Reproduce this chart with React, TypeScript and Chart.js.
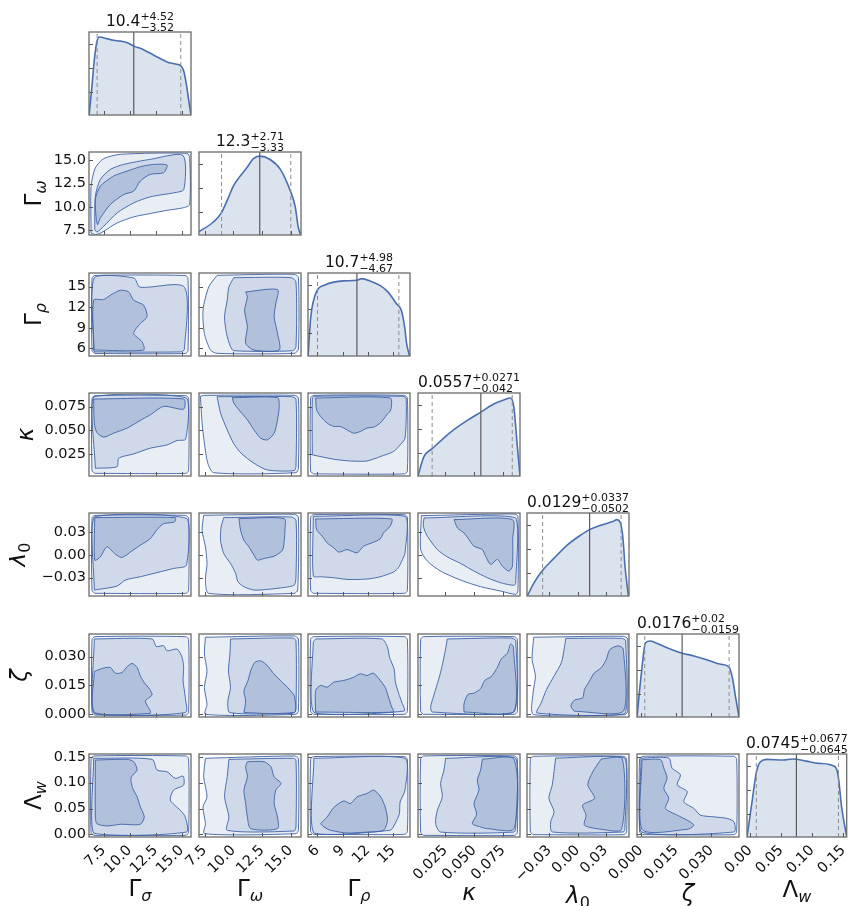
import React, { useEffect, useRef } from 'react';
import { Chart, registerables } from 'chart.js';

Chart.register(...registerables);

// ---------------- data ----------------
const paramSymbols = ['Γ', 'Γ', 'Γ', 'κ', 'λ', 'ζ', 'Λ'];
const paramSubscripts = ['σ', 'ω', 'ρ', '', '0', '', 'w'];
const symbolItalic = [false, false, false, true, true, true, false];
const subscriptItalic = [true, true, true, false, false, false, true];

const axisMin = [6.1, 7.0, 4.9, 0.0015, -0.054, -0.0016, -0.005];
const axisMax = [15.9, 15.9, 17.0, 0.0895, 0.055, 0.0418, 0.1555];
const tickValues = [
  [7.5, 10.0, 12.5, 15.0],
  [7.5, 10.0, 12.5, 15.0],
  [6, 9, 12, 15],
  [0.025, 0.05, 0.075],
  [-0.03, 0.0, 0.03],
  [0.0, 0.015, 0.03],
  [0.0, 0.05, 0.1, 0.15],
];
const tickDecimals = [1, 1, 0, 3, 2, 3, 2];
const histTicks = [0.28, 0.57, 0.86];

const medians = [10.4, 12.3, 10.7, 0.0557, 0.0129, 0.0176, 0.0745];
const errPlus = [4.52, 2.71, 4.98, 0.0271, 0.0337, 0.02, 0.0677];
const errMinus = [3.52, 3.33, 4.67, 0.042, 0.0502, 0.0159, 0.0645];

// 1D marginal densities (normalised to panel height)
const histSigmaX = [6.11, 6.35, 6.6, 6.85, 7.1, 7.8, 8.45, 9.1, 9.8, 10.4, 11.2, 12.0, 12.8, 13.6, 14.4, 14.9, 15.18, 15.47, 15.7, 15.9];
const histSigmaY = [0, 0.3, 0.65, 0.88, 0.94, 0.92, 0.9, 0.89, 0.87, 0.83, 0.795, 0.743, 0.69, 0.64, 0.614, 0.594, 0.54, 0.36, 0.16, 0];
const histOmegaX = [7.0, 8.28, 8.92, 9.5, 10.0, 11.17, 11.75, 12.28, 13.2, 14.1, 14.97, 15.4, 15.65, 15.87];
const histOmegaY = [0.04, 0.16, 0.26, 0.43, 0.59, 0.81, 0.92, 0.95, 0.91, 0.79, 0.53, 0.34, 0.1, 0];
const histRhoX = [4.91, 5.23, 6.0, 6.77, 7.95, 9.12, 10.7, 11.28, 12.26, 13.43, 14.4, 15.39, 15.97, 16.36, 16.6, 16.95];
const histRhoY = [0, 0.47, 0.79, 0.85, 0.89, 0.905, 0.912, 0.932, 0.905, 0.85, 0.77, 0.63, 0.55, 0.35, 0.15, 0];
const histKappaX = [0.0015, 0.0065, 0.0138, 0.0297, 0.044, 0.0557, 0.0673, 0.076, 0.0812, 0.0842, 0.087, 0.0895];
const histKappaY = [0, 0.23, 0.33, 0.53, 0.67, 0.77, 0.87, 0.92, 0.94, 0.83, 0.39, 0];
const histLambdaX = [-0.0537, -0.047, -0.0373, -0.0255, -0.0113, 0.0029, 0.0128, 0.024, 0.0383, 0.042, 0.0455, 0.0484, 0.0508, 0.0543];
const histLambdaY = [0, 0.15, 0.31, 0.45, 0.61, 0.73, 0.8, 0.85, 0.9, 0.92, 0.89, 0.71, 0.35, 0];
const histZetaX = [-0.0016, 0.0005, 0.002, 0.0041, 0.0062, 0.0112, 0.0169, 0.0226, 0.0284, 0.0341, 0.0376, 0.039, 0.0404, 0.0418];
const histZetaY = [0, 0.59, 0.895, 0.916, 0.895, 0.835, 0.775, 0.735, 0.687, 0.635, 0.6, 0.47, 0.23, 0];
const histLwX = [-0.005, 0.0034, 0.0098, 0.0167, 0.0272, 0.0532, 0.069, 0.09, 0.1107, 0.1369, 0.142, 0.1473, 0.155];
const histLwY = [0, 0.44, 0.77, 0.907, 0.935, 0.927, 0.939, 0.914, 0.887, 0.846, 0.725, 0.362, 0.02];

// 2D credible contours: flat [x, y, x, y, ...] in data units; boxes are [xmin, xmax, ymin, ymax]
const omeSigOuter = [6.3, 7.21, 6.3, 12.24, 6.71, 14.21, 7.51, 15.18, 9.11, 15.65, 15.52, 15.76, 15.77, 15.29, 15.77, 10.27, 15.12, 9.91, 13.6, 9.65, 11.98, 9.3, 10.39, 8.94, 8.8, 8.29, 7.34, 7.28, 6.71, 7.04];
const omeSigMid = [6.65, 7.58, 6.71, 11.17, 7.19, 12.95, 8.15, 14.03, 9.43, 14.57, 11.98, 15.11, 15.12, 15.54, 15.21, 11.88, 14.23, 11.52, 11.98, 11.09, 10.39, 10.44, 8.8, 9.37, 7.51, 7.93, 6.86, 7.32];
const omeSigInner = [6.81, 8.47, 6.71, 10.8, 7.19, 12.24, 8.47, 13.32, 9.76, 13.85, 11.03, 14.32, 12.31, 14.57, 13.6, 14.5, 13.27, 13.68, 11.98, 13.5, 11.03, 12.78, 10.39, 11.7, 9.43, 11.34, 8.15, 10.27, 7.19, 8.83, 6.93, 8.11];

const rhoSigBox = [6.39, 15.61, 5.26, 16.64];
const rhoSigMid = [6.59, 5.5, 6.59, 16.27, 10.41, 16.27, 11.0, 14.94, 15.26, 14.94, 15.26, 5.87, 14.92, 5.5];
const rhoSigInner = [6.55, 5.77, 6.55, 13.03, 7.51, 13.13, 8.15, 13.76, 9.11, 14.48, 9.91, 14.24, 10.39, 13.03, 11.35, 12.31, 11.68, 10.61, 11.03, 9.64, 10.39, 8.19, 11.2, 6.98, 11.35, 5.77];

const rhoOmeOuter = [8.58, 16.66, 7.85, 14.97, 7.35, 11.58, 7.47, 8.19, 8.0, 5.77, 8.58, 5.29, 15.31, 5.29, 15.67, 5.87, 15.67, 16.32, 15.31, 16.81];
const rhoOmeMid = [10.04, 16.32, 9.61, 14.97, 9.46, 13.03, 9.23, 10.61, 9.4, 8.19, 9.75, 6.26, 10.04, 5.67, 15.17, 5.67, 15.46, 6.26, 15.46, 15.69, 15.02, 16.32];
const rhoOmeInner = [11.07, 14.24, 13.85, 14.58, 13.7, 12.55, 13.56, 10.61, 13.85, 8.19, 14.0, 5.77, 11.8, 5.77, 11.07, 6.74, 11.22, 9.16, 10.98, 11.58, 11.22, 13.52];

const kapSigBox = [6.39, 15.67, 0.0043, 0.0867];
const kapSigMid = [6.71, 0.0097, 8.8, 0.0114, 8.95, 0.0203, 10.39, 0.0249, 11.99, 0.031, 13.6, 0.0345, 14.56, 0.0391, 15.39, 0.0406, 15.45, 0.0842, 6.55, 0.0853];
const kapSigInner = [6.55, 0.0831, 15.19, 0.0831, 15.19, 0.0724, 13.27, 0.0753, 11.99, 0.0664, 11.03, 0.0604, 9.76, 0.0523, 8.47, 0.0469, 7.51, 0.0427, 6.86, 0.0476, 6.61, 0.0576];

const kapOmeOuter = [7.12, 0.086, 7.27, 0.0576, 7.47, 0.0363, 7.77, 0.015, 8.29, 0.005, 15.46, 0.005, 15.67, 0.0097, 15.67, 0.0842, 15.31, 0.087, 7.41, 0.087];
const kapOmeMid = [8.58, 0.0856, 8.88, 0.0682, 9.46, 0.0504, 10.04, 0.0356, 10.68, 0.0256, 11.8, 0.015, 12.97, 0.0079, 15.31, 0.0072, 15.46, 0.0121, 15.46, 0.0831, 15.02, 0.0856];
const kapOmeInner = [9.9, 0.0845, 13.85, 0.0845, 14.0, 0.0753, 13.85, 0.0611, 13.56, 0.0469, 12.97, 0.0398, 12.38, 0.0416, 11.8, 0.0504, 11.22, 0.0611, 10.48, 0.0717, 10.04, 0.0789];

const kapRhoBox = [5.21, 16.69, 0.0037, 0.087];
const kapRhoMid = [5.41, 0.0239, 7.96, 0.0193, 9.93, 0.0174, 11.89, 0.0174, 13.47, 0.0221, 15.04, 0.0274, 15.83, 0.0345, 16.41, 0.0416, 16.53, 0.0842, 16.02, 0.086, 5.6, 0.086, 5.41, 0.0824];
const kapRhoInner = [5.81, 0.0842, 14.64, 0.0842, 14.73, 0.0717, 14.25, 0.0664, 13.47, 0.0576, 12.68, 0.0533, 11.89, 0.0523, 11.11, 0.0487, 10.32, 0.0469, 9.53, 0.0504, 8.75, 0.054, 7.96, 0.054, 7.17, 0.0576, 6.39, 0.0647, 5.92, 0.0717];

const lamSigBox = [6.39, 15.67, -0.0505, 0.0519];
const lamSigMid = [6.61, -0.0462, 8.8, -0.0409, 9.59, -0.0331, 11.03, -0.0287, 12.95, -0.0222, 14.23, -0.0178, 15.45, -0.0135, 15.52, 0.0476, 6.61, 0.0498];
const lamSigInner = [6.65, 0.0489, 14.39, 0.0489, 14.3, 0.0432, 13.27, 0.041, 12.64, 0.0332, 11.99, 0.0214, 11.03, 0.0127, 10.24, 0.0053, 9.28, -0.0034, 8.63, 0.0009, 7.82, 0.0105, 7.19, -0.0026, 6.65, -0.0069];

const lamOmeOuter = [7.41, 0.052, 7.27, 0.0323, 7.56, 0.0105, 7.7, -0.0113, 7.56, -0.0331, 7.85, -0.0505, 15.31, -0.0505, 15.61, -0.0462, 15.67, 0.0498, 15.31, 0.0533];
const lamOmeMid = [9.16, 0.0489, 8.93, 0.0367, 8.88, 0.0192, 9.16, 0.0018, 9.75, -0.0113, 10.2, -0.0244, 10.4, -0.0353, 10.92, -0.0418, 11.8, -0.0462, 12.97, -0.0453, 14.44, -0.0427, 15.31, -0.0396, 15.46, -0.0287, 15.46, 0.0454, 15.02, 0.0498];
const lamOmeInner = [10.48, 0.0476, 14.44, 0.0476, 14.49, 0.0323, 14.44, 0.0192, 14.29, 0.0062, 13.56, -0.0017, 12.68, -0.0047, 12.09, -0.0069, 11.8, -0.0004, 11.36, 0.0105, 10.92, 0.0192, 10.63, 0.0323];

const lamRhoBox = [5.21, 16.69, -0.0505, 0.0528];
const lamRhoMid = [5.53, 0.0506, 16.41, 0.0506, 16.41, 0.0027, 16.02, -0.0082, 15.62, -0.0169, 15.04, -0.0226, 13.47, -0.0287, 12.28, -0.0313, 11.11, -0.0322, 9.53, -0.0322, 7.96, -0.03, 6.39, -0.0287, 5.53, -0.0278];
const lamRhoInner = [5.81, 0.0472, 14.83, 0.0472, 14.64, 0.0376, 13.85, 0.0288, 13.47, 0.021, 12.49, 0.0158, 11.49, 0.0114, 10.72, 0.0027, 9.53, 0.007, 8.55, 0.0036, 7.96, 0.0092, 7.17, 0.0158, 6.59, 0.0245, 5.92, 0.0332];

const lamKapOuter = [0.0044, 0.0515, 0.0038, 0.007, 0.0096, -0.0082, 0.021, -0.0213, 0.0383, -0.0331, 0.0555, -0.0418, 0.0728, -0.0475, 0.0858, -0.0518, 0.0877, -0.0475, 0.0877, 0.0506, 0.0843, 0.0537];
const lamKapMid = [0.0067, 0.0485, 0.0061, 0.0376, 0.0096, 0.0245, 0.0182, 0.007, 0.0268, -0.0026, 0.0383, -0.0113, 0.0498, -0.0213, 0.0613, -0.03, 0.0728, -0.0366, 0.0843, -0.04, 0.0858, -0.0366, 0.0858, 0.0485];
const lamKapInner = [0.0326, 0.0463, 0.0829, 0.0463, 0.0832, 0.0201, 0.0829, -0.0148, 0.08, -0.0213, 0.0743, -0.0148, 0.07, -0.006, 0.0642, -0.0126, 0.0598, -0.0017, 0.057, 0.007, 0.0498, 0.0114, 0.0455, 0.0201, 0.0412, 0.0288, 0.0355, 0.0354];

const zetSigBox = [6.39, 15.67, -0.0006, 0.0404];
const zetSigMid = [6.61, 0.0392, 12.16, 0.0392, 12.57, 0.0352, 13.27, 0.0357, 13.6, 0.033, 14.56, 0.0339, 15.04, 0.0296, 15.19, 0.0243, 15.14, 0.0173, 15.35, 0.0086, 15.35, 0.0007, 6.61, 0.0007];
const zetSigInner = [6.61, 0.0222, 7.51, 0.024, 8.15, 0.0243, 8.63, 0.0213, 9.28, 0.0217, 9.76, 0.0247, 10.24, 0.0264, 10.72, 0.0243, 11.03, 0.0199, 11.41, 0.0164, 11.93, 0.0129, 12.16, 0.0099, 11.51, 0.0068, 11.99, 0.0016, 11.99, 0.0003, 6.61, 0.0003];

const zetOmeOuter = [7.56, 0.0401, 7.47, 0.0313, 7.7, 0.0225, 7.47, 0.0138, 7.7, 0.005, 7.56, -0.0002, 15.46, -0.0002, 15.67, 0.0016, 15.67, 0.0392, 15.31, 0.0408];
const zetOmeMid = [9.75, 0.0392, 9.7, 0.0313, 9.57, 0.0225, 9.75, 0.0138, 9.52, 0.0068, 9.7, 0.0007, 15.31, 0.0007, 15.46, 0.0033, 15.46, 0.0383, 15.17, 0.0397];
const zetOmeInner = [10.92, 0.0007, 11.07, 0.0068, 10.92, 0.0121, 11.27, 0.0173, 11.51, 0.0225, 11.86, 0.0269, 12.38, 0.0278, 12.97, 0.0252, 13.56, 0.0208, 14.29, 0.0164, 14.88, 0.0129, 15.31, 0.0094, 15.31, 0.0007];

const zetRhoBox = [5.21, 16.69, -0.0002, 0.0404];
const zetRhoMid = [5.81, 0.0392, 13.66, 0.0392, 14.33, 0.0349, 14.57, 0.0296, 15.11, 0.0236, 15.27, 0.0166, 15.67, 0.0106, 16.02, 0.0062, 16.3, 0.0015, 5.6, 0.0008, 5.53, 0.0375];
const zetRhoInner = [5.81, 0.001, 5.81, 0.0123, 6.39, 0.0149, 7.17, 0.014, 7.96, 0.0166, 9.15, 0.0175, 10.32, 0.0192, 11.11, 0.021, 11.89, 0.0201, 12.68, 0.0213, 13.47, 0.0175, 14.05, 0.014, 14.45, 0.0088, 14.83, 0.0036, 15.04, 0.001];

const zetKapBox = [0.0038, 0.0872, -0.0002, 0.0404];
const zetKapMid = [0.0268, 0.0392, 0.0253, 0.034, 0.0233, 0.0279, 0.021, 0.0218, 0.0182, 0.0158, 0.0147, 0.0088, 0.0124, 0.0036, 0.0139, 0.001, 0.0843, 0.001, 0.0858, 0.0383, 0.0814, 0.0397];
const zetKapInner = [0.0412, 0.001, 0.0412, 0.0053, 0.0446, 0.0102, 0.0498, 0.0109, 0.0555, 0.0132, 0.0591, 0.0175, 0.0648, 0.0196, 0.07, 0.0244, 0.0734, 0.0288, 0.0786, 0.0317, 0.0814, 0.0366, 0.0838, 0.0349, 0.0838, 0.001];

const zetLamOuter = [-0.0468, 0.0401, -0.0486, 0.0286, -0.045, 0.0198, -0.0475, 0.011, -0.0468, -0.0004, 0.0506, -0.0004, 0.0536, 0.0014, 0.0536, 0.0392, 0.0489, 0.0406];
const zetLamMid = [-0.0125, 0.0395, -0.0143, 0.0339, -0.0172, 0.0269, -0.0251, 0.0198, -0.0331, 0.0128, -0.0388, 0.0058, -0.0432, 0.0005, 0.0506, 0.0001, 0.0514, 0.0383, 0.047, 0.0395];
const zetLamInner = [-0.0034, 0.0014, -0.0071, 0.004, -0.0034, 0.0072, 0.0055, 0.0084, 0.0074, 0.0128, 0.0128, 0.0172, 0.0175, 0.0212, 0.0254, 0.0242, 0.0308, 0.0286, 0.0344, 0.0336, 0.0434, 0.0356, 0.0489, 0.0339, 0.0489, 0.0014];

const lwSigBox = [6.3, 15.67, -0.0018, 0.1517];
const lwSigMid = [6.55, 0.1472, 12.16, 0.1451, 12.64, 0.1244, 13.6, 0.1212, 14.39, 0.1083, 15.14, 0.1128, 15.19, 0.0953, 14.23, 0.0857, 13.91, 0.0663, 14.87, 0.0468, 15.35, 0.0338, 15.45, 0.0046, 6.55, 0.0027];
const lwSigInner = [6.71, 0.1438, 9.76, 0.1451, 10.39, 0.1406, 10.72, 0.1244, 10.14, 0.1102, 10.27, 0.0908, 10.72, 0.0727, 11.03, 0.0533, 11.41, 0.0338, 11.03, 0.0196, 9.11, 0.0196, 7.82, 0.0163, 6.86, 0.0208, 6.71, 0.0338];

const lwOmeOuter = [7.56, 0.1472, 7.41, 0.1115, 7.7, 0.0727, 7.35, 0.0533, 7.56, 0.0208, 7.47, 0.0014, 15.46, 0.0014, 15.67, 0.008, 15.67, 0.1472, 15.31, 0.1517];
const lwOmeMid = [9.61, 0.1451, 9.46, 0.1115, 9.23, 0.0727, 9.61, 0.0338, 9.46, 0.008, 15.31, 0.0067, 15.46, 0.0144, 15.46, 0.1438, 15.17, 0.1472];
const lwOmeInner = [11.22, 0.1406, 12.68, 0.1406, 13.27, 0.1309, 13.56, 0.1115, 14.15, 0.0985, 13.7, 0.0857, 13.56, 0.0597, 13.85, 0.0338, 13.85, 0.0112, 11.51, 0.0112, 11.22, 0.0338, 11.07, 0.0597, 10.92, 0.0857, 11.22, 0.1115, 11.07, 0.1309];

const lwRhoBox = [5.21, 16.69, 0.0001, 0.1504];
const lwRhoMid = [5.6, 0.1472, 16.41, 0.1472, 16.41, 0.0857, 15.83, 0.0629, 15.74, 0.0403, 15.23, 0.0208, 14.64, 0.008, 5.6, 0.0027];
const lwRhoInner = [6.39, 0.0208, 7.17, 0.0338, 7.96, 0.052, 9.15, 0.0648, 9.93, 0.0597, 10.72, 0.0727, 11.89, 0.0791, 12.68, 0.0857, 13.47, 0.074, 14.05, 0.0533, 14.33, 0.0274, 13.85, 0.008, 11.89, 0.0046, 9.53, 0.0027, 7.57, 0.008, 6.79, 0.0144];

const lwKapBox = [0.0038, 0.0872, -0.0018, 0.1517];
const lwKapMid = [0.0253, 0.1472, 0.0239, 0.1244, 0.021, 0.0985, 0.0225, 0.0727, 0.0182, 0.0468, 0.0167, 0.0208, 0.021, 0.0046, 0.0843, 0.0046, 0.0858, 0.0144, 0.0858, 0.1472];
const lwKapInner = [0.057, 0.1455, 0.0555, 0.1244, 0.0527, 0.1049, 0.0541, 0.0857, 0.0498, 0.0597, 0.0521, 0.039, 0.0484, 0.0208, 0.0555, 0.0144, 0.0613, 0.0112, 0.0843, 0.0112, 0.0843, 0.1451];

const lwLamBox = [-0.0504, 0.0525, -0.0005, 0.151];
const lwLamMid = [-0.0234, 0.1476, -0.0251, 0.1216, -0.027, 0.0958, -0.0306, 0.0698, -0.0251, 0.0438, -0.0287, 0.0242, -0.027, 0.0048, 0.0489, 0.0048, 0.0506, 0.0112, 0.0506, 0.1476];
const lwLamInner = [0.0254, 0.146, 0.0164, 0.1216, 0.011, 0.0958, 0.0182, 0.0698, 0.0055, 0.0568, 0.0091, 0.0372, 0.0074, 0.0178, 0.0254, 0.0099, 0.047, 0.0099, 0.0478, 0.146];

const lwZetBox = [-0.0005, 0.0408, -0.0005, 0.151];
const lwZetMid = [0.0001, 0.1476, 0.0119, 0.1476, 0.0133, 0.1282, 0.0169, 0.1152, 0.0155, 0.0958, 0.0198, 0.0828, 0.0183, 0.0632, 0.0226, 0.0502, 0.0254, 0.0372, 0.0311, 0.034, 0.0368, 0.0308, 0.0397, 0.0242, 0.0397, 0.0048, 0.0001, 0.0048];
const lwZetInner = [0.0005, 0.1444, 0.0084, 0.1444, 0.0098, 0.1282, 0.0112, 0.1088, 0.0098, 0.0892, 0.0119, 0.0698, 0.0105, 0.0502, 0.0155, 0.0372, 0.0198, 0.0274, 0.0226, 0.0178, 0.0198, 0.0099, 0.0005, 0.0099];

// ---------------- helpers / layout ----------------
const N = 7;
const COL0 = 89, COLSTEP = 109.6, ROW0 = 32, ROWSTEP = 120.3, PW = 102, PH = 83;
const ML = 80, MR = 12, MT = 32, MB = 74;
const CW = ML + PW + MR, CH = MT + PH + MB;
const FAMILY = '"DejaVu Sans"';
const LABEL_SIZE = 23, SUB_SIZE = 16, SUB_DROP = 5;
const xLabelDrop = [59, 59, 59, 63, 66, 64, 60];
const yLabelOffset = [48, 48, 48, 56, 64, 62, 48];

const LINE = 'rgba(62,98,165,0.9)';
const FILL_OUTER = 'rgba(76,114,176,0.12)';
const FILL_MID = 'rgba(76,114,176,0.16)';
const FILL_INNER = 'rgba(76,114,176,0.23)';

function boxOutline(b: number[]): number[] {
  const [x0, x1, y0, y1] = b;
  const cx = (x1 - x0) * 0.03, cy = (y1 - y0) * 0.035;
  return [x0 + cx, y0, x1 - cx, y0, x1, y0 + cy, x1, y1 - cy, x1 - cx, y1, x0 + cx, y1, x0, y1 - cy, x0, y0 + cy];
}

const contourTable: Record<string, number[][]> = {
  '1,0': [omeSigOuter, omeSigMid, omeSigInner],
  '2,0': [boxOutline(rhoSigBox), rhoSigMid, rhoSigInner],
  '2,1': [rhoOmeOuter, rhoOmeMid, rhoOmeInner],
  '3,0': [boxOutline(kapSigBox), kapSigMid, kapSigInner],
  '3,1': [kapOmeOuter, kapOmeMid, kapOmeInner],
  '3,2': [boxOutline(kapRhoBox), kapRhoMid, kapRhoInner],
  '4,0': [boxOutline(lamSigBox), lamSigMid, lamSigInner],
  '4,1': [lamOmeOuter, lamOmeMid, lamOmeInner],
  '4,2': [boxOutline(lamRhoBox), lamRhoMid, lamRhoInner],
  '4,3': [lamKapOuter, lamKapMid, lamKapInner],
  '5,0': [boxOutline(zetSigBox), zetSigMid, zetSigInner],
  '5,1': [zetOmeOuter, zetOmeMid, zetOmeInner],
  '5,2': [boxOutline(zetRhoBox), zetRhoMid, zetRhoInner],
  '5,3': [boxOutline(zetKapBox), zetKapMid, zetKapInner],
  '5,4': [zetLamOuter, zetLamMid, zetLamInner],
  '6,0': [boxOutline(lwSigBox), lwSigMid, lwSigInner],
  '6,1': [lwOmeOuter, lwOmeMid, lwOmeInner],
  '6,2': [boxOutline(lwRhoBox), lwRhoMid, lwRhoInner],
  '6,3': [boxOutline(lwKapBox), lwKapMid, lwKapInner],
  '6,4': [boxOutline(lwLamBox), lwLamMid, lwLamInner],
  '6,5': [boxOutline(lwZetBox), lwZetMid, lwZetInner],
};

const histTable = [
  [histSigmaX, histSigmaY],
  [histOmegaX, histOmegaY],
  [histRhoX, histRhoY],
  [histKappaX, histKappaY],
  [histLambdaX, histLambdaY],
  [histZetaX, histZetaY],
  [histLwX, histLwY],
];

function closedPoints(flat: number[]) {
  const pts: { x: number; y: number }[] = [];
  for (let i = 0; i < flat.length; i += 2) pts.push({ x: flat[i], y: flat[i + 1] });
  pts.push({ x: flat[0], y: flat[1] });
  return pts;
}

function fmtTick(v: number, d: number) {
  return v.toFixed(d).replace('-', '\u2212');
}

function setFont(ctx: CanvasRenderingContext2D, size: number, italic: boolean) {
  ctx.font = `${italic ? 'italic ' : ''}${size}px ${FAMILY}`;
}

function drawSymbol(ctx: CanvasRenderingContext2D, idx: number, cx: number, y: number) {
  setFont(ctx, LABEL_SIZE, symbolItalic[idx]);
  const w1 = ctx.measureText(paramSymbols[idx]).width;
  let w2 = 0;
  if (paramSubscripts[idx]) {
    setFont(ctx, SUB_SIZE, subscriptItalic[idx]);
    w2 = ctx.measureText(paramSubscripts[idx]).width;
  }
  const x0 = cx - (w1 + w2) / 2;
  setFont(ctx, LABEL_SIZE, symbolItalic[idx]);
  ctx.fillText(paramSymbols[idx], x0, y);
  if (w2) {
    setFont(ctx, SUB_SIZE, subscriptItalic[idx]);
    ctx.fillText(paramSubscripts[idx], x0 + w1, y + SUB_DROP);
  }
}

const decorPlugin = {
  id: 'decor',
  afterDraw(chart: any, _args: any, opts: any) {
    const ctx: CanvasRenderingContext2D = chart.ctx;
    const a = chart.chartArea;
    const xs = chart.scales.x, ys = chart.scales.y;
    ctx.save();
    // inward tick marks
    ctx.strokeStyle = '#555';
    ctx.lineWidth = 1;
    ctx.beginPath();
    xs.ticks.forEach((_t: any, i: number) => {
      const px = Math.round(xs.getPixelForTick(i)) + 0.5;
      ctx.moveTo(px, a.bottom);
      ctx.lineTo(px, a.bottom - 4);
    });
    ys.ticks.forEach((_t: any, i: number) => {
      const py = Math.round(ys.getPixelForTick(i)) + 0.5;
      ctx.moveTo(a.left, py);
      ctx.lineTo(a.left + 4, py);
    });
    ctx.stroke();
    // frame
    ctx.strokeStyle = '#6a6a6a';
    ctx.lineWidth = 1.3;
    ctx.strokeRect(a.left, a.top, a.right - a.left, a.bottom - a.top);
    ctx.fillStyle = '#111';
    ctx.textAlign = 'left';
    ctx.textBaseline = 'alphabetic';
    // title on the diagonal
    if (opts.titleIndex >= 0) {
      const i = opts.titleIndex;
      const main = String(medians[i]);
      const sup = '+' + String(errPlus[i]);
      const sub = '\u2212' + String(errMinus[i]);
      setFont(ctx, 15.5, false);
      const wm = ctx.measureText(main).width;
      setFont(ctx, 11, false);
      const ws = Math.max(ctx.measureText(sup).width, ctx.measureText(sub).width);
      const cx = (a.left + a.right) / 2;
      const x0 = cx - (wm + ws) / 2;
      setFont(ctx, 15.5, false);
      ctx.fillText(main, x0, a.top - 6);
      setFont(ctx, 11, false);
      ctx.fillText(sup, x0 + wm, a.top - 12.5);
      ctx.fillText(sub, x0 + wm, a.top - 1.5);
    }
    if (opts.xLabelIndex >= 0) {
      const i = opts.xLabelIndex;
      drawSymbol(ctx, i, (a.left + a.right) / 2, a.bottom + xLabelDrop[i]);
    }
    if (opts.yLabelIndex >= 0) {
      const i = opts.yLabelIndex;
      ctx.translate(a.left - yLabelOffset[i], (a.top + a.bottom) / 2);
      ctx.rotate(-Math.PI / 2);
      drawSymbol(ctx, i, 0, 0);
    }
    ctx.restore();
  },
};

function buildConfig(row: number, col: number): any {
  const isHist = row === col;
  const isBottom = row === N - 1;
  const isLeft = col === 0;
  const tickFont = { family: 'DejaVu Sans', size: 14.5 };
  let datasets: any[];
  if (isHist) {
    const [hx, hy] = histTable[col];
    const curve = hx.map((x, i) => ({ x, y: hy[i] }));
    const lo = medians[col] - errMinus[col];
    const hi = medians[col] + errPlus[col];
    const vline = (v: number, color: string, dash: number[], w: number) => ({
      data: [{ x: v, y: 0 }, { x: v, y: 1 }],
      borderColor: color,
      borderDash: dash,
      borderWidth: w,
      pointRadius: 0,
      fill: false,
      order: 1,
    });
    datasets = [
      {
        data: curve,
        fill: 'origin',
        backgroundColor: 'rgba(76,114,176,0.2)',
        borderColor: '#4a6fb0',
        borderWidth: 1.6,
        pointRadius: 0,
        cubicInterpolationMode: 'monotone',
        order: 3,
      },
      vline(lo, '#8c8c8c', [4, 3], 1),
      vline(medians[col], '#5c5c5c', [], 1.2),
      vline(hi, '#8c8c8c', [4, 3], 1),
    ];
  } else {
    const [outer, mid, inner] = contourTable[`${row},${col}`];
    const mk = (flat: number[], fill: string, order: number) => ({
      data: closedPoints(flat),
      fill: 'shape',
      backgroundColor: fill,
      borderColor: LINE,
      borderWidth: 1,
      pointRadius: 0,
      tension: 0.25,
      order,
    });
    datasets = [mk(inner, FILL_INNER, 1), mk(mid, FILL_MID, 2), mk(outer, FILL_OUTER, 3)];
  }
  const yTicks = isHist ? histTicks : tickValues[row];
  return {
    type: 'line',
    data: { datasets },
    plugins: [decorPlugin],
    options: {
      responsive: false,
      animation: false,
      devicePixelRatio: 1,
      events: [],
      layout: { padding: { left: 0, right: MR, top: MT, bottom: 0 } },
      plugins: {
        legend: { display: false },
        tooltip: { enabled: false },
        decor: {
          titleIndex: isHist ? col : -1,
          xLabelIndex: isBottom ? col : -1,
          yLabelIndex: isLeft && !isHist ? row : -1,
        },
      },
      scales: {
        x: {
          type: 'linear',
          min: axisMin[col],
          max: axisMax[col],
          afterBuildTicks: (s: any) => {
            s.ticks = tickValues[col].map((v) => ({ value: v }));
          },
          afterFit: (s: any) => {
            s.height = MB;
          },
          grid: { display: false, drawTicks: false },
          border: { display: false },
          ticks: {
            display: isBottom,
            autoSkip: false,
            minRotation: 45,
            maxRotation: 45,
            padding: 5,
            color: '#111',
            font: tickFont,
            callback: (v: number) => fmtTick(v, tickDecimals[col]),
          },
        },
        y: {
          type: 'linear',
          min: isHist ? 0 : axisMin[row],
          max: isHist ? 1 : axisMax[row],
          afterBuildTicks: (s: any) => {
            s.ticks = yTicks.map((v) => ({ value: v }));
          },
          afterFit: (s: any) => {
            s.width = ML;
          },
          grid: { display: false, drawTicks: false },
          border: { display: false },
          ticks: {
            display: isLeft && !isHist,
            autoSkip: false,
            padding: 3,
            color: '#111',
            font: tickFont,
            callback: (v: number) => fmtTick(v, tickDecimals[row]),
          },
        },
      },
    },
  };
}

function Panel({ row, col }: { row: number; col: number }) {
  const ref = useRef<HTMLCanvasElement>(null);
  useEffect(() => {
    const chart = new Chart(ref.current as HTMLCanvasElement, buildConfig(row, col));
    return () => chart.destroy();
  }, [row, col]);
  const left = Math.round(COL0 + col * COLSTEP) - ML;
  const top = Math.round(ROW0 + row * ROWSTEP) - MT;
  return (
    <canvas
      ref={ref}
      width={CW}
      height={CH}
      style={{ position: 'absolute', left, top, width: CW, height: CH }}
    />
  );
}

export default function App() {
  const panels: JSX.Element[] = [];
  for (let r = 0; r < N; r++) {
    for (let c = 0; c <= r; c++) {
      panels.push(<Panel key={`${r}-${c}`} row={r} col={c} />);
    }
  }
  return (
    <div
      style={{
        position: 'absolute',
        left: 0,
        top: 0,
        width: 859,
        height: 906,
        overflow: 'hidden',
        background: '#fff',
      }}
    >
      {panels}
    </div>
  );
}
